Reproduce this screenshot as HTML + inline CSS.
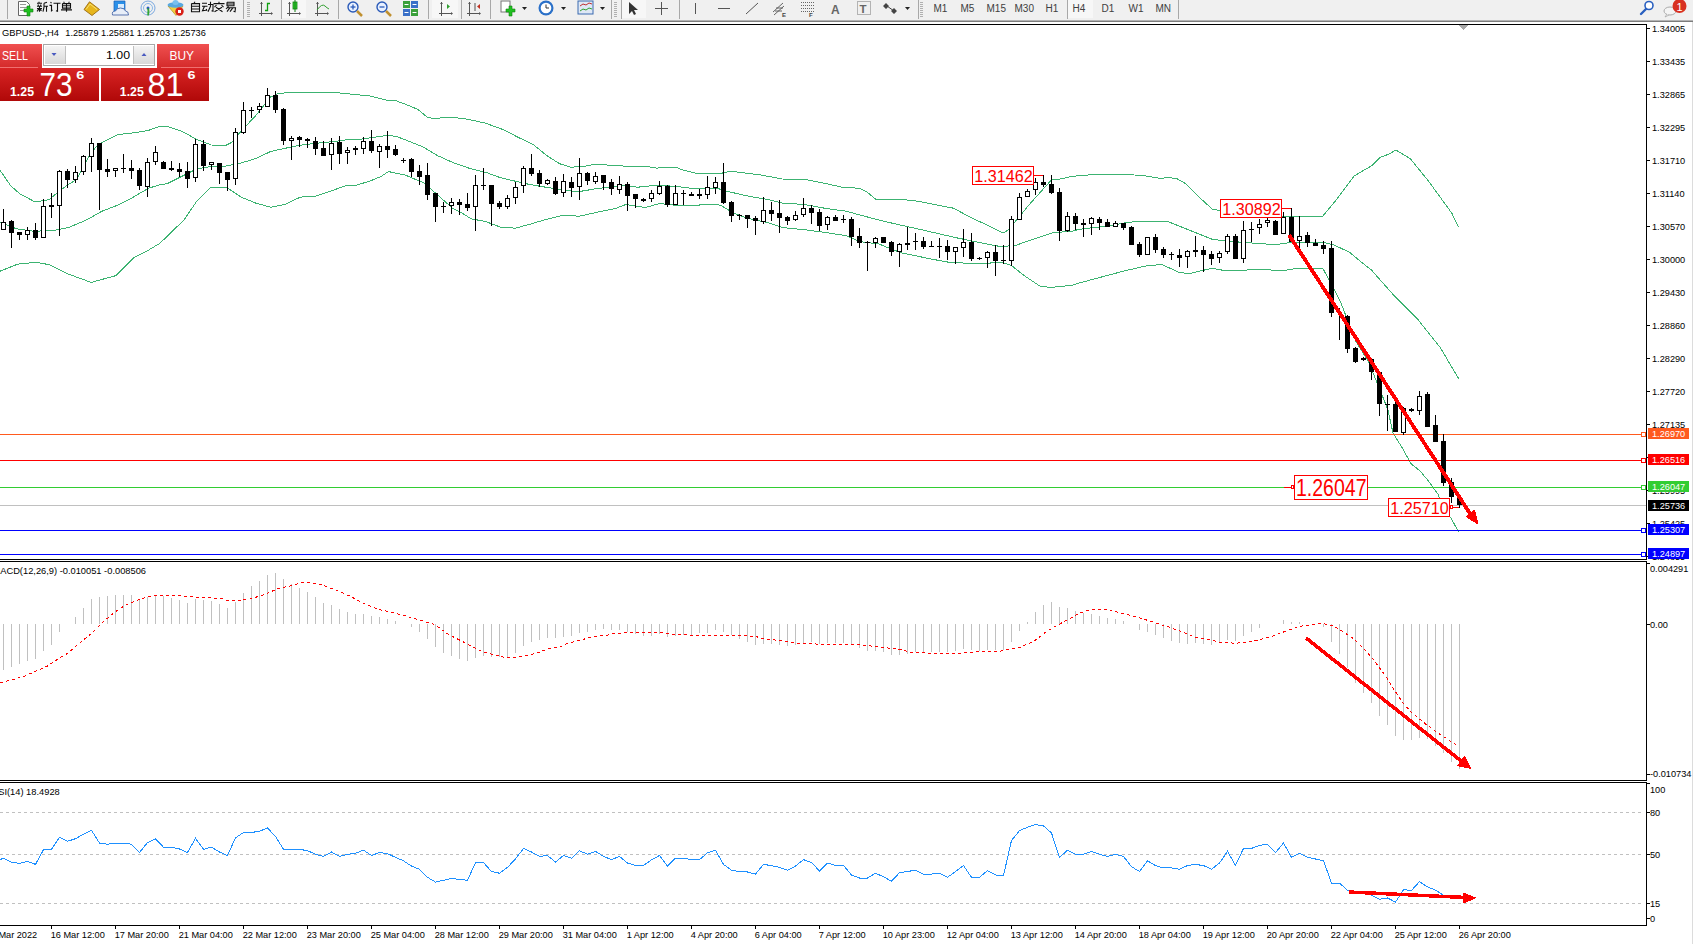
<!DOCTYPE html>
<html><head><meta charset="utf-8"><style>
html,body{margin:0;padding:0;background:#fff;}
body{width:1693px;height:944px;overflow:hidden;position:relative;font-family:"Liberation Sans",sans-serif;}
svg{display:block;}
</style></head><body>
<svg style="position:absolute;left:0;top:0" width="1693" height="944" shape-rendering="crispEdges">
<rect x="0" y="24" width="1647" height="1" fill="#000"/><rect x="1646" y="24" width="1" height="536" fill="#000"/><rect x="0" y="559" width="1647" height="1" fill="#000"/><rect x="0" y="561" width="1647" height="1" fill="#000"/><rect x="1646" y="561" width="1" height="220" fill="#000"/><rect x="0" y="780" width="1647" height="1" fill="#000"/><rect x="0" y="782" width="1647" height="1" fill="#000"/><rect x="1646" y="782" width="1" height="144" fill="#000"/><rect x="0" y="925" width="1647" height="1" fill="#000"/><rect x="1692" y="22" width="1" height="922" fill="#dcdcdc"/><path d="M1458 25 h10 l-5 5 z" fill="#a8a8a8"/><polyline points="0.0,170.3 11.0,186.1 20.0,193.9 35.1,202.0 49.1,199.7 57.3,192.7 66.6,185.7 75.9,179.9 82.9,168.3 89.9,154.3 96.9,146.1 103.9,141.5 117.9,134.5 135.3,132.7 148.7,130.3 160.0,126.2 166.8,126.3 181.7,131.2 196.5,139.3 211.3,145.0 226.1,145.2 232.0,142.3 241.0,131.2 255.8,115.6 270.6,97.0 278.0,93.6 292.9,92.2 312.0,92.6 340.0,93.0 370.0,96.0 386.3,100.0 395.9,100.7 407.8,105.2 418.2,109.6 427.1,117.0 434.5,119.0 443.4,117.5 452.3,117.5 464.0,118.5 485.0,123.0 504.2,130.0 518.3,137.4 533.1,144.5 547.9,156.4 559.8,163.8 570.2,167.1 582.0,166.8 593.9,164.4 604.3,164.8 622.8,166.0 648.0,166.7 656.9,168.2 664.3,167.1 676.2,167.4 682.1,169.7 697.0,173.4 720.7,173.4 731.1,171.1 741.5,172.6 760.0,174.8 782.2,179.0 804.5,179.3 826.7,183.7 843.0,187.4 859.3,188.2 866.8,191.9 875.7,199.3 886.0,200.0 900.9,199.3 920.0,201.5 934.2,204.5 953.5,208.2 971.3,217.8 986.1,224.5 1003.2,233.0 1009.9,229.0 1015.8,220.8 1030.6,203.0 1051.4,180.0 1060.3,179.0 1072.0,176.3 1093.7,174.5 1126.3,174.5 1144.1,175.6 1160.4,178.5 1167.8,177.5 1176.7,178.5 1185.6,183.7 1197.5,195.6 1212.3,209.2 1219.7,210.4 1250.0,216.0 1281.2,216.0 1322.9,216.0 1337.2,198.7 1354.4,175.8 1371.6,165.8 1380.1,157.2 1388.7,154.3 1395.9,150.0 1410.2,158.6 1428.8,181.5 1451.7,213.0 1458.8,227.3" fill="none" stroke="#3cb371" stroke-width="1"/><polyline points="0.0,222.2 16.5,228.8 34.4,231.3 55.1,230.2 68.8,227.4 86.4,220.0 101.6,211.4 117.0,205.4 130.8,198.5 148.7,188.2 160.0,184.7 166.8,183.8 181.7,176.4 196.5,169.0 211.3,166.4 226.1,166.0 241.0,163.0 255.8,158.6 270.6,151.5 285.5,148.2 300.3,145.2 318.8,143.0 333.7,141.5 345.5,140.0 360.3,139.3 375.2,137.1 388.5,135.3 397.4,136.8 407.8,140.8 422.6,146.7 437.5,155.6 452.3,162.3 464.0,166.4 470.8,168.8 485.7,172.3 500.5,177.7 515.3,181.2 530.1,184.6 545.0,187.1 559.8,189.3 571.7,191.1 582.0,191.1 596.9,188.6 616.0,186.3 622.8,185.2 637.7,187.2 656.9,185.2 674.7,186.3 697.0,188.9 719.2,188.9 726.6,191.2 748.9,196.3 768.0,199.6 782.2,203.0 804.5,204.5 826.7,208.6 846.0,211.2 863.8,216.0 878.6,220.0 900.9,225.2 920.0,229.4 934.2,232.7 956.5,237.8 978.7,242.3 1001.0,246.7 1015.8,245.3 1030.6,240.1 1052.9,232.7 1072.0,231.2 1078.8,229.4 1093.7,227.5 1108.5,226.0 1127.8,222.3 1145.6,221.1 1167.8,221.5 1190.0,230.4 1212.3,239.3 1224.0,240.8 1245.7,242.6 1275.3,244.6 1290.1,242.6 1322.8,242.2 1334.6,245.2 1349.5,252.3 1357.3,258.8 1371.6,270.2 1394.4,296.0 1417.3,318.8 1440.2,347.5 1458.8,378.9" fill="none" stroke="#3cb371" stroke-width="1"/><polyline points="0.0,271.2 17.8,264.1 35.6,262.3 48.9,264.6 66.7,273.5 91.2,282.4 115.6,275.7 133.4,257.9 148.7,250.0 160.0,243.2 183.9,220.0 196.5,201.6 211.3,187.0 226.1,187.0 241.0,197.1 255.8,203.1 270.6,207.2 285.5,204.3 300.3,197.1 315.9,196.1 326.2,192.7 347.0,185.3 355.9,185.3 370.7,180.8 381.1,176.4 388.5,171.6 404.8,174.9 415.2,179.3 424.1,183.0 437.5,194.9 452.3,208.0 464.0,214.2 470.8,218.7 485.7,221.6 500.5,227.1 515.3,228.2 530.1,224.2 545.0,219.7 559.8,216.0 570.2,215.3 579.1,216.3 596.9,212.3 616.0,208.3 625.8,204.5 645.1,207.5 659.9,203.5 674.7,205.2 697.0,205.2 711.8,204.1 720.7,205.2 734.0,213.4 748.9,218.6 768.0,222.7 782.2,227.5 804.5,229.7 826.7,232.7 846.0,235.6 856.4,240.1 863.8,242.3 878.6,243.8 890.5,248.7 900.9,252.7 920.0,256.7 934.2,259.6 949.1,262.3 978.7,263.8 1001.0,262.3 1011.3,265.3 1023.2,274.9 1041.0,286.8 1052.9,287.2 1072.0,285.3 1078.8,283.1 1101.1,277.1 1123.3,271.2 1145.6,266.0 1161.9,264.5 1179.7,272.7 1190.0,273.4 1212.3,268.2 1224.0,270.5 1230.8,270.8 1260.5,269.3 1282.7,270.8 1297.6,268.3 1322.8,268.3 1332.7,286.6 1341.2,303.6 1347.5,320.0 1356.0,341.7 1368.7,362.0 1379.3,388.3 1387.8,409.5 1393.0,433.0 1402.0,447.5 1411.0,463.7 1420.0,470.9 1429.0,481.7 1438.0,494.3 1443.5,507.0 1450.7,517.7 1458.8,532.2" fill="none" stroke="#3cb371" stroke-width="1"/><rect x="0" y="505" width="1646" height="1" fill="#c0c0c0"/><rect x="0" y="434" width="1641" height="1" fill="#ff5a1e"/><rect x="1641.5" y="432.5" width="4" height="4" fill="#fff" stroke="#ff5a1e" stroke-width="1"/><rect x="0" y="460" width="1641" height="1" fill="#ff0000"/><rect x="1641.5" y="458.5" width="4" height="4" fill="#fff" stroke="#ff0000" stroke-width="1"/><rect x="0" y="487" width="1641" height="1" fill="#32cd32"/><rect x="1641.5" y="485.5" width="4" height="4" fill="#fff" stroke="#32cd32" stroke-width="1"/><rect x="0" y="530" width="1641" height="1" fill="#0000ff"/><rect x="1641.5" y="528.5" width="4" height="4" fill="#fff" stroke="#0000ff" stroke-width="1"/><rect x="0" y="554" width="1641" height="1" fill="#0000ff"/><rect x="1641.5" y="552.5" width="4" height="4" fill="#fff" stroke="#0000ff" stroke-width="1"/><path d="M3.5 209V230M11.5 220V248M19.5 232V240M27.5 227V240M35.5 223V240M43.5 199V238M51.5 193V218M59.5 170V236M67.5 169V188M75.5 166V183M83.5 155V175M91.5 138V172M99.5 143V210M107.5 159V177M115.5 168V177M123.5 154V173M131.5 160V179M139.5 168V190M147.5 158V197M155.5 146V165M163.5 161V169M171.5 161V171M179.5 163V177M187.5 162V188M195.5 139V182M203.5 140V171M211.5 162V170M219.5 163V184M227.5 172V191M235.5 128V185M243.5 102V134M251.5 107V118M259.5 103V113M267.5 88V107M275.5 91V113M283.5 108V145M291.5 136V160M299.5 136V147M307.5 138V148M315.5 137V155M323.5 141V156M331.5 138V170M339.5 136V164M347.5 147V164M355.5 146V155M363.5 137V154M371.5 130V153M379.5 144V168M387.5 131V158M395.5 145V156M403.5 158V163M411.5 158V177M419.5 165V185M427.5 163V200M435.5 193V222M443.5 202V213M451.5 198V214M459.5 199V215M467.5 193V211M475.5 175V231M483.5 168V190M491.5 185V226M499.5 201V209M507.5 195V209M515.5 182V204M523.5 166V193M531.5 154V176M539.5 170V187M547.5 179V185M555.5 177V195M563.5 174V197M571.5 177V197M579.5 158V200M587.5 172V185M595.5 172V184M603.5 175V190M611.5 179V195M619.5 176V194M627.5 182V211M635.5 194V208M643.5 198V202M651.5 190V202M659.5 181V195M667.5 185V207M675.5 185V205M683.5 190V205M691.5 192V196M699.5 189V199M707.5 176V199M715.5 177V194M723.5 163V204M731.5 201V222M739.5 214V220M747.5 215V228M755.5 216V235M763.5 197V224M771.5 202V221M779.5 200V233M787.5 216V225M795.5 211V221M803.5 198V217M811.5 205V224M819.5 209V231M827.5 216V230M835.5 215V221M843.5 215V223M851.5 217V246M859.5 228V248M867.5 241V271M875.5 237V248M883.5 237V243M891.5 241V256M899.5 243V267M907.5 227V250M915.5 233V250M923.5 237V249M931.5 241V247M939.5 238V258M947.5 240V260M955.5 247V264M963.5 229V257M971.5 233V261M979.5 257V260M987.5 251V268M995.5 245V276M1003.5 245V264M1011.5 216V266M1019.5 193V220M1027.5 189V197M1035.5 178V195M1043.5 175V187M1051.5 175V194M1059.5 188V241M1067.5 212V232M1075.5 213V230M1083.5 219V237M1091.5 217V235M1099.5 217V230M1107.5 219V227M1115.5 221V227M1123.5 223V230M1131.5 226V245M1139.5 242V257M1147.5 237V255M1155.5 234V253M1163.5 247V258M1171.5 252V260M1179.5 249V267M1187.5 250V268M1195.5 236V257M1203.5 246V272M1211.5 251V265M1219.5 251V263M1227.5 234V254M1235.5 234V259M1243.5 221V263M1251.5 222V242M1259.5 219V234M1267.5 217V227M1275.5 220V235M1283.5 212V234M1291.5 208V242M1299.5 216V248M1307.5 232V247M1315.5 239V246M1323.5 241V254M1331.5 241V317M1339.5 308V340M1347.5 315V353M1355.5 347V363M1363.5 357V361M1371.5 358V380M1379.5 371V416M1387.5 395V431M1395.5 402V432M1403.5 407V435M1411.5 408V412M1419.5 391V415M1427.5 392V427M1435.5 415V442M1443.5 434V486M1451.5 478V503M1459.5 497V508" stroke="#000" stroke-width="1" fill="none"/><rect x="1.5" y="222.5" width="4" height="7" fill="#fff" stroke="#000" stroke-width="1"/><rect x="9" y="221" width="5" height="12" fill="#000"/><rect x="17" y="232" width="5" height="3" fill="#000"/><rect x="25.5" y="230.5" width="4" height="4" fill="#fff" stroke="#000" stroke-width="1"/><rect x="33" y="230" width="5" height="8" fill="#000"/><rect x="41.5" y="206.5" width="4" height="31" fill="#fff" stroke="#000" stroke-width="1"/><rect x="49" y="205" width="5" height="2" fill="#000"/><rect x="57.5" y="171.5" width="4" height="34" fill="#fff" stroke="#000" stroke-width="1"/><rect x="65" y="171" width="5" height="9" fill="#000"/><rect x="73.5" y="172.5" width="4" height="7" fill="#fff" stroke="#000" stroke-width="1"/><rect x="81.5" y="156.5" width="4" height="15" fill="#fff" stroke="#000" stroke-width="1"/><rect x="89.5" y="143.5" width="4" height="13" fill="#fff" stroke="#000" stroke-width="1"/><rect x="97" y="143" width="5" height="27" fill="#000"/><rect x="105" y="169" width="5" height="3" fill="#000"/><rect x="113.5" y="168.5" width="4" height="2" fill="#fff" stroke="#000" stroke-width="1"/><rect x="121" y="168" width="5" height="1" fill="#000"/><rect x="129" y="168" width="5" height="3" fill="#000"/><rect x="137" y="170" width="5" height="16" fill="#000"/><rect x="145.5" y="162.5" width="4" height="24" fill="#fff" stroke="#000" stroke-width="1"/><rect x="153.5" y="152.5" width="4" height="9" fill="#fff" stroke="#000" stroke-width="1"/><rect x="161" y="162" width="5" height="7" fill="#000"/><rect x="169" y="168" width="5" height="2" fill="#000"/><rect x="177" y="169" width="5" height="3" fill="#000"/><rect x="185" y="171" width="5" height="8" fill="#000"/><rect x="193.5" y="144.5" width="4" height="33" fill="#fff" stroke="#000" stroke-width="1"/><rect x="201" y="144" width="5" height="22" fill="#000"/><rect x="209.5" y="162.5" width="4" height="2" fill="#fff" stroke="#000" stroke-width="1"/><rect x="217" y="163" width="5" height="10" fill="#000"/><rect x="225" y="172" width="5" height="8" fill="#000"/><rect x="233.5" y="132.5" width="4" height="46" fill="#fff" stroke="#000" stroke-width="1"/><rect x="241.5" y="110.5" width="4" height="22" fill="#fff" stroke="#000" stroke-width="1"/><rect x="249" y="110" width="5" height="1" fill="#000"/><rect x="257.5" y="106.5" width="4" height="3" fill="#fff" stroke="#000" stroke-width="1"/><rect x="265.5" y="95.5" width="4" height="11" fill="#fff" stroke="#000" stroke-width="1"/><rect x="273" y="95" width="5" height="15" fill="#000"/><rect x="281" y="109" width="5" height="32" fill="#000"/><rect x="289.5" y="138.5" width="4" height="2" fill="#fff" stroke="#000" stroke-width="1"/><rect x="297" y="137" width="5" height="3" fill="#000"/><rect x="305" y="139" width="5" height="2" fill="#000"/><rect x="313" y="141" width="5" height="8" fill="#000"/><rect x="321" y="148" width="5" height="8" fill="#000"/><rect x="329.5" y="143.5" width="4" height="11" fill="#fff" stroke="#000" stroke-width="1"/><rect x="337" y="142" width="5" height="12" fill="#000"/><rect x="345.5" y="150.5" width="4" height="2" fill="#fff" stroke="#000" stroke-width="1"/><rect x="353" y="148" width="5" height="2" fill="#000"/><rect x="361.5" y="141.5" width="4" height="7" fill="#fff" stroke="#000" stroke-width="1"/><rect x="369" y="141" width="5" height="10" fill="#000"/><rect x="377.5" y="146.5" width="4" height="5" fill="#fff" stroke="#000" stroke-width="1"/><rect x="385" y="146" width="5" height="4" fill="#000"/><rect x="393" y="149" width="5" height="6" fill="#000"/><rect x="401" y="160" width="5" height="1" fill="#000"/><rect x="409" y="159" width="5" height="13" fill="#000"/><rect x="417" y="171" width="5" height="6" fill="#000"/><rect x="425" y="175" width="5" height="20" fill="#000"/><rect x="433" y="193" width="5" height="14" fill="#000"/><rect x="441" y="206" width="5" height="1" fill="#000"/><rect x="449.5" y="202.5" width="4" height="3" fill="#fff" stroke="#000" stroke-width="1"/><rect x="457" y="202" width="5" height="3" fill="#000"/><rect x="465" y="204" width="5" height="4" fill="#000"/><rect x="473.5" y="185.5" width="4" height="21" fill="#fff" stroke="#000" stroke-width="1"/><rect x="481" y="185" width="5" height="1" fill="#000"/><rect x="489" y="185" width="5" height="19" fill="#000"/><rect x="497" y="203" width="5" height="4" fill="#000"/><rect x="505.5" y="198.5" width="4" height="8" fill="#fff" stroke="#000" stroke-width="1"/><rect x="513.5" y="187.5" width="4" height="10" fill="#fff" stroke="#000" stroke-width="1"/><rect x="521.5" y="168.5" width="4" height="17" fill="#fff" stroke="#000" stroke-width="1"/><rect x="529" y="168" width="5" height="6" fill="#000"/><rect x="537" y="173" width="5" height="11" fill="#000"/><rect x="545.5" y="180.5" width="4" height="3" fill="#fff" stroke="#000" stroke-width="1"/><rect x="553" y="181" width="5" height="13" fill="#000"/><rect x="561.5" y="181.5" width="4" height="11" fill="#fff" stroke="#000" stroke-width="1"/><rect x="569" y="182" width="5" height="6" fill="#000"/><rect x="577.5" y="173.5" width="4" height="13" fill="#fff" stroke="#000" stroke-width="1"/><rect x="585" y="173" width="5" height="8" fill="#000"/><rect x="593.5" y="176.5" width="4" height="5" fill="#fff" stroke="#000" stroke-width="1"/><rect x="601" y="175" width="5" height="8" fill="#000"/><rect x="609" y="182" width="5" height="7" fill="#000"/><rect x="617.5" y="184.5" width="4" height="5" fill="#fff" stroke="#000" stroke-width="1"/><rect x="625" y="184" width="5" height="12" fill="#000"/><rect x="633" y="194" width="5" height="5" fill="#000"/><rect x="641" y="199" width="5" height="2" fill="#000"/><rect x="649.5" y="193.5" width="4" height="5" fill="#fff" stroke="#000" stroke-width="1"/><rect x="657.5" y="186.5" width="4" height="7" fill="#fff" stroke="#000" stroke-width="1"/><rect x="665" y="186" width="5" height="19" fill="#000"/><rect x="673.5" y="193.5" width="4" height="11" fill="#fff" stroke="#000" stroke-width="1"/><rect x="681" y="193" width="5" height="1" fill="#000"/><rect x="689" y="194" width="5" height="2" fill="#000"/><rect x="697" y="194" width="5" height="2" fill="#000"/><rect x="705.5" y="187.5" width="4" height="7" fill="#fff" stroke="#000" stroke-width="1"/><rect x="713.5" y="182.5" width="4" height="5" fill="#fff" stroke="#000" stroke-width="1"/><rect x="721" y="182" width="5" height="21" fill="#000"/><rect x="729" y="202" width="5" height="14" fill="#000"/><rect x="737" y="215" width="5" height="1" fill="#000"/><rect x="745" y="215" width="5" height="4" fill="#000"/><rect x="753" y="218" width="5" height="3" fill="#000"/><rect x="761.5" y="210.5" width="4" height="11" fill="#fff" stroke="#000" stroke-width="1"/><rect x="769" y="210" width="5" height="4" fill="#000"/><rect x="777" y="213" width="5" height="5" fill="#000"/><rect x="785" y="217" width="5" height="4" fill="#000"/><rect x="793.5" y="215.5" width="4" height="4" fill="#fff" stroke="#000" stroke-width="1"/><rect x="801.5" y="208.5" width="4" height="6" fill="#fff" stroke="#000" stroke-width="1"/><rect x="809" y="208" width="5" height="5" fill="#000"/><rect x="817" y="212" width="5" height="14" fill="#000"/><rect x="825.5" y="217.5" width="4" height="7" fill="#fff" stroke="#000" stroke-width="1"/><rect x="833" y="217" width="5" height="4" fill="#000"/><rect x="841" y="219" width="5" height="1" fill="#000"/><rect x="849" y="219" width="5" height="18" fill="#000"/><rect x="857" y="236" width="5" height="7" fill="#000"/><rect x="865" y="242" width="5" height="1" fill="#000"/><rect x="873.5" y="238.5" width="4" height="4" fill="#fff" stroke="#000" stroke-width="1"/><rect x="881" y="237" width="5" height="6" fill="#000"/><rect x="889" y="242" width="5" height="10" fill="#000"/><rect x="897.5" y="244.5" width="4" height="7" fill="#fff" stroke="#000" stroke-width="1"/><rect x="905" y="243" width="5" height="2" fill="#000"/><rect x="913" y="241" width="5" height="1" fill="#000"/><rect x="921" y="241" width="5" height="6" fill="#000"/><rect x="929" y="246" width="5" height="1" fill="#000"/><rect x="937" y="246" width="5" height="1" fill="#000"/><rect x="945" y="246" width="5" height="6" fill="#000"/><rect x="953.5" y="247.5" width="4" height="4" fill="#fff" stroke="#000" stroke-width="1"/><rect x="961.5" y="242.5" width="4" height="5" fill="#fff" stroke="#000" stroke-width="1"/><rect x="969" y="242" width="5" height="17" fill="#000"/><rect x="977" y="258" width="5" height="1" fill="#000"/><rect x="985.5" y="252.5" width="4" height="5" fill="#fff" stroke="#000" stroke-width="1"/><rect x="993" y="252" width="5" height="9" fill="#000"/><rect x="1001" y="260" width="5" height="1" fill="#000"/><rect x="1009.5" y="219.5" width="4" height="41" fill="#fff" stroke="#000" stroke-width="1"/><rect x="1017.5" y="197.5" width="4" height="22" fill="#fff" stroke="#000" stroke-width="1"/><rect x="1025.5" y="191.5" width="4" height="5" fill="#fff" stroke="#000" stroke-width="1"/><rect x="1033.5" y="182.5" width="4" height="7" fill="#fff" stroke="#000" stroke-width="1"/><rect x="1041" y="182" width="5" height="3" fill="#000"/><rect x="1049" y="184" width="5" height="9" fill="#000"/><rect x="1057" y="192" width="5" height="39" fill="#000"/><rect x="1065.5" y="216.5" width="4" height="14" fill="#fff" stroke="#000" stroke-width="1"/><rect x="1073" y="216" width="5" height="8" fill="#000"/><rect x="1081" y="223" width="5" height="2" fill="#000"/><rect x="1089.5" y="218.5" width="4" height="5" fill="#fff" stroke="#000" stroke-width="1"/><rect x="1097" y="219" width="5" height="4" fill="#000"/><rect x="1105" y="222" width="5" height="5" fill="#000"/><rect x="1113.5" y="223.5" width="4" height="3" fill="#fff" stroke="#000" stroke-width="1"/><rect x="1121" y="223" width="5" height="5" fill="#000"/><rect x="1129" y="227" width="5" height="18" fill="#000"/><rect x="1137" y="244" width="5" height="11" fill="#000"/><rect x="1145.5" y="237.5" width="4" height="17" fill="#fff" stroke="#000" stroke-width="1"/><rect x="1153" y="237" width="5" height="13" fill="#000"/><rect x="1161" y="249" width="5" height="6" fill="#000"/><rect x="1169" y="254" width="5" height="1" fill="#000"/><rect x="1177" y="255" width="5" height="3" fill="#000"/><rect x="1185.5" y="251.5" width="4" height="5" fill="#fff" stroke="#000" stroke-width="1"/><rect x="1193" y="250" width="5" height="2" fill="#000"/><rect x="1201" y="250" width="5" height="5" fill="#000"/><rect x="1209" y="254" width="5" height="5" fill="#000"/><rect x="1217.5" y="253.5" width="4" height="4" fill="#fff" stroke="#000" stroke-width="1"/><rect x="1225.5" y="236.5" width="4" height="15" fill="#fff" stroke="#000" stroke-width="1"/><rect x="1233" y="236" width="5" height="23" fill="#000"/><rect x="1241.5" y="230.5" width="4" height="28" fill="#fff" stroke="#000" stroke-width="1"/><rect x="1249" y="229" width="5" height="1" fill="#000"/><rect x="1257.5" y="224.5" width="4" height="3" fill="#fff" stroke="#000" stroke-width="1"/><rect x="1265.5" y="220.5" width="4" height="2" fill="#fff" stroke="#000" stroke-width="1"/><rect x="1273" y="221" width="5" height="14" fill="#000"/><rect x="1281.5" y="217.5" width="4" height="16" fill="#fff" stroke="#000" stroke-width="1"/><rect x="1289" y="217" width="5" height="25" fill="#000"/><rect x="1297.5" y="236.5" width="4" height="4" fill="#fff" stroke="#000" stroke-width="1"/><rect x="1305" y="235" width="5" height="8" fill="#000"/><rect x="1313" y="243" width="5" height="3" fill="#000"/><rect x="1321" y="245" width="5" height="4" fill="#000"/><rect x="1329" y="248" width="5" height="65" fill="#000"/><rect x="1345" y="316" width="5" height="33" fill="#000"/><rect x="1353" y="348" width="5" height="14" fill="#000"/><rect x="1361" y="358" width="5" height="2" fill="#000"/><rect x="1369" y="359" width="5" height="13" fill="#000"/><rect x="1377" y="372" width="5" height="32" fill="#000"/><rect x="1385" y="404" width="5" height="1" fill="#000"/><rect x="1393" y="404" width="5" height="28" fill="#000"/><rect x="1401.5" y="408.5" width="4" height="24" fill="#fff" stroke="#000" stroke-width="1"/><rect x="1409" y="409" width="5" height="2" fill="#000"/><rect x="1417.5" y="396.5" width="4" height="14" fill="#fff" stroke="#000" stroke-width="1"/><rect x="1425" y="394" width="5" height="33" fill="#000"/><rect x="1433" y="425" width="5" height="17" fill="#000"/><rect x="1441" y="441" width="5" height="42" fill="#000"/><rect x="1449" y="482" width="5" height="15" fill="#000"/><rect x="1457" y="498" width="5" height="7" fill="#000"/><rect x="972.5" y="166.5" width="61" height="18" fill="#fff" stroke="#ff0000" stroke-width="1"/><text x="974.3" y="182" font-size="16.7" font-family='"Liberation Sans", sans-serif' fill="#ff0000" textLength="58.5" lengthAdjust="spacingAndGlyphs">1.31462</text><path d="M1033 175.5 H1043" stroke="#ff0000" fill="none"/><rect x="1220.5" y="199.5" width="61" height="18" fill="#fff" stroke="#ff0000" stroke-width="1"/><text x="1222.3" y="215" font-size="16.7" font-family='"Liberation Sans", sans-serif' fill="#ff0000" textLength="58.5" lengthAdjust="spacingAndGlyphs">1.30892</text><path d="M1281 208.5 H1291" stroke="#ff0000" fill="none"/><rect x="1294.5" y="475.5" width="73" height="24" fill="#fff" stroke="#ff0000" stroke-width="1"/><text x="1296" y="496" font-size="23" font-family='"Liberation Sans", sans-serif' fill="#ff0000" textLength="70.5" lengthAdjust="spacingAndGlyphs">1.26047</text><path d="M1284 487.5 H1294" stroke="#ff0000" fill="none"/><rect x="1291.5" y="485.5" width="2" height="3" fill="#fff" stroke="#ff0000"/><rect x="1388.5" y="498.5" width="61" height="18" fill="#fff" stroke="#ff0000" stroke-width="1"/><text x="1390.3" y="514" font-size="16.7" font-family='"Liberation Sans", sans-serif' fill="#ff0000" textLength="58.5" lengthAdjust="spacingAndGlyphs">1.25710</text><path d="M1449 507.5 H1459" stroke="#ff0000" fill="none"/><rect x="1450.5" y="505.5" width="2" height="3" fill="#fff" stroke="#ff0000"/><path d="M1289 235 L1471 515" stroke="#ff0000" stroke-width="3.8" fill="none"/><path d="M1477.5 523.5 L1466.5 516.5 L1474.5 510.5 Z" fill="#ff0000" stroke="#ff0000" stroke-width="1.5" stroke-linejoin="round"/><rect x="1647" y="28" width="3" height="1" fill="#000"/><text x="1652" y="32" font-size="9.2" font-family='"Liberation Sans", sans-serif' fill="#000">1.34005</text><rect x="1647" y="61" width="3" height="1" fill="#000"/><text x="1652" y="65" font-size="9.2" font-family='"Liberation Sans", sans-serif' fill="#000">1.33435</text><rect x="1647" y="94" width="3" height="1" fill="#000"/><text x="1652" y="98" font-size="9.2" font-family='"Liberation Sans", sans-serif' fill="#000">1.32865</text><rect x="1647" y="127" width="3" height="1" fill="#000"/><text x="1652" y="131" font-size="9.2" font-family='"Liberation Sans", sans-serif' fill="#000">1.32295</text><rect x="1647" y="160" width="3" height="1" fill="#000"/><text x="1652" y="164" font-size="9.2" font-family='"Liberation Sans", sans-serif' fill="#000">1.31710</text><rect x="1647" y="193" width="3" height="1" fill="#000"/><text x="1652" y="197" font-size="9.2" font-family='"Liberation Sans", sans-serif' fill="#000">1.31140</text><rect x="1647" y="226" width="3" height="1" fill="#000"/><text x="1652" y="230" font-size="9.2" font-family='"Liberation Sans", sans-serif' fill="#000">1.30570</text><rect x="1647" y="259" width="3" height="1" fill="#000"/><text x="1652" y="263" font-size="9.2" font-family='"Liberation Sans", sans-serif' fill="#000">1.30000</text><rect x="1647" y="292" width="3" height="1" fill="#000"/><text x="1652" y="296" font-size="9.2" font-family='"Liberation Sans", sans-serif' fill="#000">1.29430</text><rect x="1647" y="325" width="3" height="1" fill="#000"/><text x="1652" y="329" font-size="9.2" font-family='"Liberation Sans", sans-serif' fill="#000">1.28860</text><rect x="1647" y="358" width="3" height="1" fill="#000"/><text x="1652" y="362" font-size="9.2" font-family='"Liberation Sans", sans-serif' fill="#000">1.28290</text><rect x="1647" y="391" width="3" height="1" fill="#000"/><text x="1652" y="395" font-size="9.2" font-family='"Liberation Sans", sans-serif' fill="#000">1.27720</text><rect x="1647" y="424" width="3" height="1" fill="#000"/><text x="1652" y="428" font-size="9.2" font-family='"Liberation Sans", sans-serif' fill="#000">1.27135</text><rect x="1647" y="457" width="3" height="1" fill="#000"/><text x="1652" y="461" font-size="9.2" font-family='"Liberation Sans", sans-serif' fill="#000">1.26550</text><rect x="1647" y="490" width="3" height="1" fill="#000"/><text x="1652" y="494" font-size="9.2" font-family='"Liberation Sans", sans-serif' fill="#000">1.25995</text><rect x="1647" y="523" width="3" height="1" fill="#000"/><text x="1652" y="527" font-size="9.2" font-family='"Liberation Sans", sans-serif' fill="#000">1.25425</text><rect x="1647" y="556" width="3" height="1" fill="#000"/><text x="1652" y="560" font-size="9.2" font-family='"Liberation Sans", sans-serif' fill="#000">1.24855</text><rect x="1648" y="428" width="41" height="11" fill="#ff5a1e"/><text x="1652" y="437" font-size="9.2" font-family='"Liberation Sans", sans-serif' fill="#fff">1.26970</text><rect x="1648" y="454" width="41" height="11" fill="#ff0000"/><text x="1652" y="463" font-size="9.2" font-family='"Liberation Sans", sans-serif' fill="#fff">1.26516</text><rect x="1648" y="481" width="41" height="11" fill="#32cd32"/><text x="1652" y="490" font-size="9.2" font-family='"Liberation Sans", sans-serif' fill="#fff">1.26047</text><rect x="1648" y="500" width="41" height="11" fill="#000000"/><text x="1652" y="509" font-size="9.2" font-family='"Liberation Sans", sans-serif' fill="#fff">1.25736</text><rect x="1648" y="524" width="41" height="11" fill="#0000ff"/><text x="1652" y="533" font-size="9.2" font-family='"Liberation Sans", sans-serif' fill="#fff">1.25307</text><rect x="1648" y="548" width="41" height="11" fill="#0000ff"/><text x="1652" y="557" font-size="9.2" font-family='"Liberation Sans", sans-serif' fill="#fff">1.24897</text><text x="2" y="36" font-size="9.3" font-family='"Liberation Sans", sans-serif' fill="#000" textLength="57" lengthAdjust="spacingAndGlyphs">GBPUSD-,H4</text><text x="65.3" y="36" font-size="9.3" font-family='"Liberation Sans", sans-serif' fill="#000" textLength="140.5" lengthAdjust="spacingAndGlyphs">1.25879 1.25881 1.25703 1.25736</text><path d="M3.5 624V670M11.5 624V667M19.5 624V664M27.5 624V661M35.5 624V659M43.5 624V651M51.5 624V645M59.5 624V632M75.5 617V624M83.5 608V624M91.5 599V624M99.5 597V624M107.5 596V624M115.5 595V624M123.5 595V624M131.5 595V624M139.5 600V624M147.5 597V624M155.5 596V624M163.5 596V624M171.5 598V624M179.5 600V624M187.5 603V624M195.5 599V624M203.5 600V624M211.5 601V624M219.5 604V624M227.5 608V624M235.5 602V624M243.5 593V624M251.5 586V624M259.5 581V624M267.5 575V624M275.5 573V624M283.5 579V624M291.5 584V624M299.5 588V624M307.5 592V624M315.5 597V624M323.5 603V624M331.5 605V624M339.5 609V624M347.5 612V624M355.5 614V624M363.5 614V624M371.5 616V624M379.5 617V624M387.5 619V624M395.5 621V624M411.5 624V627M419.5 624V632M427.5 624V639M435.5 624V647M443.5 624V653M451.5 624V656M459.5 624V659M467.5 624V661M475.5 624V658M483.5 624V656M491.5 624V657M499.5 624V657M507.5 624V657M515.5 624V653M523.5 624V646M531.5 624V642M539.5 624V640M547.5 624V638M555.5 624V638M563.5 624V637M571.5 624V636M579.5 624V633M587.5 624V632M595.5 624V630M603.5 624V629M611.5 624V630M619.5 624V630M627.5 624V632M635.5 624V634M643.5 624V636M651.5 624V636M659.5 624V634M667.5 624V637M675.5 624V636M683.5 624V635M691.5 624V635M699.5 624V633M707.5 624V633M715.5 624V630M723.5 624V632M731.5 624V635M739.5 624V639M747.5 624V642M755.5 624V645M763.5 624V644M771.5 624V644M779.5 624V645M787.5 624V646M795.5 624V645M803.5 624V643M811.5 624V642M819.5 624V644M827.5 624V643M835.5 624V643M843.5 624V643M851.5 624V644M859.5 624V648M867.5 624V651M875.5 624V651M883.5 624V652M891.5 624V655M899.5 624V655M907.5 624V654M915.5 624V652M923.5 624V652M931.5 624V652M939.5 624V652M947.5 624V652M955.5 624V651M963.5 624V649M971.5 624V650M979.5 624V651M987.5 624V650M995.5 624V650M1003.5 624V650M1011.5 624V642M1019.5 624V631M1027.5 622V624M1035.5 612V624M1043.5 605V624M1051.5 602V624M1059.5 607V624M1067.5 608V624M1075.5 611V624M1083.5 613V624M1091.5 614V624M1099.5 616V624M1107.5 618V624M1115.5 619V624M1123.5 621V624M1139.5 624V630M1147.5 624V632M1155.5 624V635M1163.5 624V638M1171.5 624V641M1179.5 624V643M1187.5 624V644M1195.5 624V643M1203.5 624V644M1211.5 624V645M1219.5 624V643M1227.5 624V640M1235.5 624V641M1243.5 624V636M1251.5 624V632M1259.5 624V628M1283.5 620V624M1291.5 622V624M1299.5 622V624M1323.5 624V627M1331.5 624V642M1339.5 624V654M1347.5 624V668M1355.5 624V683M1363.5 624V693M1371.5 624V703M1379.5 624V716M1387.5 624V725M1395.5 624V736M1403.5 624V740M1411.5 624V740M1419.5 624V738M1427.5 624V739M1435.5 624V746M1443.5 624V753M1451.5 624V762M1459.5 624V769" stroke="#c0c0c0" stroke-width="1" fill="none"/><polyline points="0.0,682.7 11.3,680.1 24.1,676.3 35.4,671.3 48.2,665.7 59.5,657.9 66.6,654.0 78.0,644.4 92.1,633.0 103.5,621.7 113.4,613.2 124.8,605.4 134.7,601.1 141.8,598.7 148.8,596.5 155.9,595.5 177.2,595.5 191.4,596.5 198.5,597.6 221.2,598.3 226.8,600.4 238.8,600.4 250.2,599.0 264.4,594.5 278.5,588.4 289.9,586.0 299.8,583.1 306.9,582.3 314.0,583.1 323.9,585.6 335.2,589.8 349.4,595.9 363.6,603.3 377.8,609.2 392.0,612.5 406.1,616.0 420.3,620.3 434.5,624.5 448.6,634.5 462.8,641.6 476.0,648.6 484.5,652.4 493.0,654.5 504.4,657.4 518.5,657.1 528.5,655.2 539.8,652.4 546.9,648.9 558.2,647.5 568.1,643.2 582.3,639.7 589.4,637.5 596.5,636.1 606.4,635.4 612.1,634.0 624.9,632.6 660.3,632.6 671.6,634.0 685.8,634.4 691.5,635.4 716.0,635.2 737.3,635.4 755.7,636.4 762.8,638.7 769.9,639.7 782.6,640.4 789.7,642.5 801.1,643.9 857.8,644.3 864.9,645.3 886.1,647.7 900.3,649.6 911.6,652.4 928.6,653.1 956.0,653.4 977.3,651.7 998.5,651.4 1019.8,647.5 1034.0,641.1 1048.1,630.4 1062.3,622.6 1076.5,614.8 1086.4,610.3 1104.9,609.2 1111.9,610.9 1126.1,614.1 1140.3,618.0 1154.5,622.6 1168.6,626.9 1182.8,632.1 1196.0,637.5 1212.2,640.1 1219.4,642.4 1235.6,643.2 1250.0,641.9 1260.8,639.2 1271.6,636.5 1286.0,631.1 1300.4,626.2 1322.0,623.4 1332.8,625.7 1343.6,632.0 1354.4,639.2 1363.4,648.2 1374.3,660.8 1385.1,675.2 1394.0,689.6 1403.1,703.1 1412.1,713.0 1426.5,724.7 1439.1,733.7 1457.1,745.4" fill="none" stroke="#ff0000" stroke-width="1" stroke-dasharray="3 3"/><path d="M1306 638 L1463 762.5" stroke="#ff0000" stroke-width="3.6" fill="none"/><path d="M1470 768 L1458 765.5 L1464.5 757 Z" fill="#ff0000" stroke="#ff0000" stroke-width="1.5" stroke-linejoin="round"/><text x="-7.5" y="574" font-size="9.3" font-family='"Liberation Sans", sans-serif' fill="#000">MACD(12,26,9) -0.010051 -0.008506</text><rect x="1647" y="563" width="3" height="1" fill="#000"/><rect x="1647" y="624" width="3" height="1" fill="#000"/><rect x="1647" y="774" width="3" height="1" fill="#000"/><text x="1650" y="572" font-size="9.2" font-family='"Liberation Sans", sans-serif' fill="#000">0.004291</text><text x="1650" y="628" font-size="9.2" font-family='"Liberation Sans", sans-serif' fill="#000">0.00</text><text x="1650" y="777" font-size="9.2" font-family='"Liberation Sans", sans-serif' fill="#000">-0.010734</text><path d="M0 812.5 H1644" stroke="#c0c0c0" stroke-width="1" stroke-dasharray="3 3"/><path d="M0 854.5 H1644" stroke="#c0c0c0" stroke-width="1" stroke-dasharray="3 3"/><path d="M0 903.5 H1644" stroke="#c0c0c0" stroke-width="1" stroke-dasharray="3 3"/><polyline points="0.0,859.6 3.5,858.2 11.5,862.1 19.5,863.5 27.5,861.4 35.5,864.4 43.5,849.7 51.5,849.3 59.5,837.3 67.5,841.3 75.5,838.7 83.5,834.2 91.5,830.3 99.5,843.1 107.5,844.3 115.5,843.1 123.5,843.1 131.5,844.3 139.5,852.5 147.5,842.6 155.5,839.0 163.5,847.2 171.5,847.2 179.5,849.0 187.5,852.5 195.5,838.3 203.5,849.3 211.5,847.2 219.5,852.0 227.5,855.5 235.5,837.8 243.5,832.5 251.5,832.5 259.5,831.2 267.5,828.0 275.5,836.5 283.5,849.3 291.5,849.3 299.5,849.3 307.5,850.7 315.5,854.3 323.5,856.4 331.5,852.0 339.5,856.4 347.5,854.3 355.5,853.2 363.5,850.2 371.5,855.5 379.5,852.5 387.5,853.7 395.5,857.3 403.5,860.8 411.5,866.1 419.5,869.2 427.5,877.3 435.5,882.1 443.5,880.3 451.5,878.5 459.5,879.4 467.5,880.3 475.5,862.6 483.5,862.6 491.5,871.5 499.5,873.2 507.5,867.4 515.5,859.0 523.5,848.4 531.5,852.0 539.5,856.4 547.5,855.5 555.5,862.1 563.5,855.5 571.5,858.2 579.5,850.7 587.5,854.3 595.5,851.4 603.5,856.4 611.5,859.6 619.5,856.4 627.5,863.1 635.5,865.3 643.5,865.3 651.5,859.9 659.5,855.5 667.5,866.1 675.5,858.2 683.5,858.2 691.5,859.6 699.5,859.6 707.5,852.8 715.5,850.2 723.5,864.4 731.5,870.2 739.5,871.5 747.5,872.0 755.5,874.1 763.5,864.4 771.5,865.6 779.5,867.4 787.5,870.2 795.5,866.1 803.5,859.6 811.5,862.6 819.5,870.9 827.5,863.1 835.5,865.3 843.5,865.3 851.5,875.0 859.5,878.0 867.5,878.0 875.5,873.2 883.5,876.8 891.5,881.2 899.5,872.7 907.5,871.5 915.5,870.2 923.5,874.1 931.5,874.1 939.5,873.2 947.5,877.3 955.5,871.5 963.5,865.6 971.5,877.3 979.5,877.3 987.5,870.6 995.5,875.0 1003.5,875.5 1011.5,840.4 1019.5,830.7 1027.5,827.2 1035.5,824.5 1043.5,825.9 1051.5,833.0 1059.5,857.3 1067.5,850.2 1075.5,854.3 1083.5,854.3 1091.5,851.4 1099.5,854.3 1107.5,856.4 1115.5,854.3 1123.5,856.4 1131.5,866.7 1139.5,871.5 1147.5,860.8 1155.5,865.6 1163.5,867.9 1171.5,867.9 1179.5,869.2 1187.5,865.5 1195.5,864.4 1203.5,865.6 1211.5,869.2 1219.5,863.1 1227.5,851.4 1235.5,865.3 1243.5,848.4 1251.5,848.4 1259.5,845.4 1267.5,844.3 1275.5,852.5 1283.5,843.1 1291.5,857.3 1299.5,853.2 1307.5,857.3 1315.5,859.0 1323.5,860.8 1331.5,883.0 1339.5,883.0 1347.5,890.4 1355.5,892.2 1363.5,891.5 1371.5,895.4 1379.5,899.3 1387.5,898.0 1395.5,902.1 1403.5,889.7 1411.5,890.4 1419.5,881.6 1427.5,886.9 1435.5,890.1 1443.5,895.4 1451.5,897.1 1459.5,898.5" fill="none" stroke="#1e90ff" stroke-width="1"/><path d="M1349 892 L1466 897.5" stroke="#ff0000" stroke-width="3.5" fill="none"/><path d="M1475 898 L1464 893.5 L1464 902.5 Z" fill="#ff0000" stroke="#ff0000" stroke-width="1.5" stroke-linejoin="round"/><text x="-8.5" y="794.8" font-size="9.3" font-family='"Liberation Sans", sans-serif' fill="#000">RSI(14) 18.4928</text><rect x="1647" y="783" width="3" height="1" fill="#000"/><rect x="1647" y="812" width="3" height="1" fill="#000"/><rect x="1647" y="854" width="3" height="1" fill="#000"/><rect x="1647" y="903" width="3" height="1" fill="#000"/><rect x="1647" y="918" width="3" height="1" fill="#000"/><text x="1650" y="793" font-size="9.2" font-family='"Liberation Sans", sans-serif' fill="#000">100</text><text x="1650" y="816" font-size="9.2" font-family='"Liberation Sans", sans-serif' fill="#000">80</text><text x="1650" y="858" font-size="9.2" font-family='"Liberation Sans", sans-serif' fill="#000">50</text><text x="1650" y="907" font-size="9.2" font-family='"Liberation Sans", sans-serif' fill="#000">15</text><text x="1650" y="922" font-size="9.2" font-family='"Liberation Sans", sans-serif' fill="#000">0</text><text x="-14.4" y="938" font-size="9.2" font-family='"Liberation Sans", sans-serif' fill="#000">15 Mar 2022</text><rect x="51" y="926" width="1" height="3" fill="#000"/><text x="50.7" y="938" font-size="9.2" font-family='"Liberation Sans", sans-serif' fill="#000">16 Mar 12:00</text><rect x="115" y="926" width="1" height="3" fill="#000"/><text x="114.7" y="938" font-size="9.2" font-family='"Liberation Sans", sans-serif' fill="#000">17 Mar 20:00</text><rect x="179" y="926" width="1" height="3" fill="#000"/><text x="178.7" y="938" font-size="9.2" font-family='"Liberation Sans", sans-serif' fill="#000">21 Mar 04:00</text><rect x="243" y="926" width="1" height="3" fill="#000"/><text x="242.7" y="938" font-size="9.2" font-family='"Liberation Sans", sans-serif' fill="#000">22 Mar 12:00</text><rect x="307" y="926" width="1" height="3" fill="#000"/><text x="306.7" y="938" font-size="9.2" font-family='"Liberation Sans", sans-serif' fill="#000">23 Mar 20:00</text><rect x="371" y="926" width="1" height="3" fill="#000"/><text x="370.7" y="938" font-size="9.2" font-family='"Liberation Sans", sans-serif' fill="#000">25 Mar 04:00</text><rect x="435" y="926" width="1" height="3" fill="#000"/><text x="434.7" y="938" font-size="9.2" font-family='"Liberation Sans", sans-serif' fill="#000">28 Mar 12:00</text><rect x="499" y="926" width="1" height="3" fill="#000"/><text x="498.7" y="938" font-size="9.2" font-family='"Liberation Sans", sans-serif' fill="#000">29 Mar 20:00</text><rect x="563" y="926" width="1" height="3" fill="#000"/><text x="562.7" y="938" font-size="9.2" font-family='"Liberation Sans", sans-serif' fill="#000">31 Mar 04:00</text><rect x="627" y="926" width="1" height="3" fill="#000"/><text x="626.7" y="938" font-size="9.2" font-family='"Liberation Sans", sans-serif' fill="#000">1 Apr 12:00</text><rect x="691" y="926" width="1" height="3" fill="#000"/><text x="690.7" y="938" font-size="9.2" font-family='"Liberation Sans", sans-serif' fill="#000">4 Apr 20:00</text><rect x="755" y="926" width="1" height="3" fill="#000"/><text x="754.7" y="938" font-size="9.2" font-family='"Liberation Sans", sans-serif' fill="#000">6 Apr 04:00</text><rect x="819" y="926" width="1" height="3" fill="#000"/><text x="818.7" y="938" font-size="9.2" font-family='"Liberation Sans", sans-serif' fill="#000">7 Apr 12:00</text><rect x="883" y="926" width="1" height="3" fill="#000"/><text x="882.7" y="938" font-size="9.2" font-family='"Liberation Sans", sans-serif' fill="#000">10 Apr 23:00</text><rect x="947" y="926" width="1" height="3" fill="#000"/><text x="946.7" y="938" font-size="9.2" font-family='"Liberation Sans", sans-serif' fill="#000">12 Apr 04:00</text><rect x="1011" y="926" width="1" height="3" fill="#000"/><text x="1010.7" y="938" font-size="9.2" font-family='"Liberation Sans", sans-serif' fill="#000">13 Apr 12:00</text><rect x="1075" y="926" width="1" height="3" fill="#000"/><text x="1074.7" y="938" font-size="9.2" font-family='"Liberation Sans", sans-serif' fill="#000">14 Apr 20:00</text><rect x="1139" y="926" width="1" height="3" fill="#000"/><text x="1138.7" y="938" font-size="9.2" font-family='"Liberation Sans", sans-serif' fill="#000">18 Apr 04:00</text><rect x="1203" y="926" width="1" height="3" fill="#000"/><text x="1202.7" y="938" font-size="9.2" font-family='"Liberation Sans", sans-serif' fill="#000">19 Apr 12:00</text><rect x="1267" y="926" width="1" height="3" fill="#000"/><text x="1266.7" y="938" font-size="9.2" font-family='"Liberation Sans", sans-serif' fill="#000">20 Apr 20:00</text><rect x="1331" y="926" width="1" height="3" fill="#000"/><text x="1330.7" y="938" font-size="9.2" font-family='"Liberation Sans", sans-serif' fill="#000">22 Apr 04:00</text><rect x="1395" y="926" width="1" height="3" fill="#000"/><text x="1394.7" y="938" font-size="9.2" font-family='"Liberation Sans", sans-serif' fill="#000">25 Apr 12:00</text><rect x="1459" y="926" width="1" height="3" fill="#000"/><text x="1458.7" y="938" font-size="9.2" font-family='"Liberation Sans", sans-serif' fill="#000">26 Apr 20:00</text>
</svg>
<svg style="position:absolute;left:0;top:0" width="1693" height="22">
<rect x="0" y="0" width="1693" height="20" fill="#f0f0f0"/><rect x="0" y="20" width="1693" height="1" fill="#b4b4b4"/><rect x="0" y="21" width="1693" height="1" fill="#7c7c7c"/><rect x="7" y="0" width="1" height="19" fill="#a8a8a8"/><rect x="243" y="0" width="1" height="19" fill="#a8a8a8"/><rect x="281" y="0" width="1" height="19" fill="#a8a8a8"/><rect x="338" y="0" width="1" height="19" fill="#a8a8a8"/><rect x="428" y="0" width="1" height="19" fill="#a8a8a8"/><rect x="461" y="0" width="1" height="19" fill="#a8a8a8"/><rect x="490" y="0" width="1" height="19" fill="#a8a8a8"/><rect x="611" y="0" width="1" height="19" fill="#a8a8a8"/><rect x="621" y="0" width="1" height="19" fill="#a8a8a8"/><rect x="679" y="0" width="1" height="19" fill="#a8a8a8"/><rect x="918" y="0" width="1" height="19" fill="#a8a8a8"/><rect x="1067" y="0" width="1" height="19" fill="#a8a8a8"/><rect x="1178" y="0" width="1" height="19" fill="#a8a8a8"/><rect x="247" y="2" width="3" height="1" fill="#b0b0b0"/><rect x="247" y="4" width="3" height="1" fill="#b0b0b0"/><rect x="247" y="6" width="3" height="1" fill="#b0b0b0"/><rect x="247" y="8" width="3" height="1" fill="#b0b0b0"/><rect x="247" y="10" width="3" height="1" fill="#b0b0b0"/><rect x="247" y="12" width="3" height="1" fill="#b0b0b0"/><rect x="247" y="14" width="3" height="1" fill="#b0b0b0"/><rect x="247" y="16" width="3" height="1" fill="#b0b0b0"/><rect x="614" y="2" width="3" height="1" fill="#b0b0b0"/><rect x="614" y="4" width="3" height="1" fill="#b0b0b0"/><rect x="614" y="6" width="3" height="1" fill="#b0b0b0"/><rect x="614" y="8" width="3" height="1" fill="#b0b0b0"/><rect x="614" y="10" width="3" height="1" fill="#b0b0b0"/><rect x="614" y="12" width="3" height="1" fill="#b0b0b0"/><rect x="614" y="14" width="3" height="1" fill="#b0b0b0"/><rect x="614" y="16" width="3" height="1" fill="#b0b0b0"/><rect x="920" y="2" width="3" height="1" fill="#b0b0b0"/><rect x="920" y="4" width="3" height="1" fill="#b0b0b0"/><rect x="920" y="6" width="3" height="1" fill="#b0b0b0"/><rect x="920" y="8" width="3" height="1" fill="#b0b0b0"/><rect x="920" y="10" width="3" height="1" fill="#b0b0b0"/><rect x="920" y="12" width="3" height="1" fill="#b0b0b0"/><rect x="920" y="14" width="3" height="1" fill="#b0b0b0"/><rect x="920" y="16" width="3" height="1" fill="#b0b0b0"/><rect x="282" y="0" width="24" height="18" fill="#f7f7f7"/><rect x="432" y="0" width="26" height="18" fill="#f7f7f7"/><rect x="622" y="0" width="24" height="18" fill="#f7f7f7"/><rect x="1068" y="0" width="25" height="18" fill="#f7f7f7"/><path d="M18.5 1.5 h8 l3 3 v11 h-11 z" fill="#fff" stroke="#666" stroke-width="1"/><rect x="20" y="4" width="6" height="1" fill="#999"/><rect x="20" y="7" width="7" height="1" fill="#999"/><rect x="20" y="10" width="5" height="1" fill="#999"/><path d="M24 9h3v-3h3v3h3v3h-3v4h-3v-4h-3z" fill="#20c020" stroke="#108010" stroke-width="0.6"/><path d="M39.0 1.8 L39.0 2.7 M37.0 3.2 L42.0 3.2 M38.0 4.5 L38.5 5.8 M41.0 4.5 L40.5 5.8 M37.0 6.3 L42.0 6.3 M37.0 8.6 L42.0 8.6 M39.5 6.3 L39.5 11.7 M39.0 9.0 L37.0 11.3 M40.0 9.5 L41.5 10.8 M47.0 2.2 L44.0 3.2 M44.0 3.2 L44.0 7.2 L43.0 11.7 M44.0 6.3 L48.0 6.3 M46.5 6.3 L46.5 11.7 " stroke="#111" stroke-width="1.1" fill="none"/><path d="M50.5 2.2 L51.5 3.2 M49.5 5.4 L51.5 5.4 L51.5 10.8 L52.5 9.9 M53.5 3.2 L60.5 3.2 M57.5 3.2 L57.5 11.3 L56.0 10.8 " stroke="#111" stroke-width="1.1" fill="none"/><path d="M63.5 1.8 L64.5 2.7 M69.5 1.8 L68.5 2.7 M62.5 3.6 L70.5 3.6 L70.5 8.1 L62.5 8.1 L62.5 3.6 M62.5 5.8 L70.5 5.8 M66.5 3.6 L66.5 11.7 M61.0 9.9 L72.0 9.9 " stroke="#111" stroke-width="1.1" fill="none"/><path d="M84 9.5 L89.5 1.8 L99.5 9.5 L92 15.5 Z" fill="#e6b51c" stroke="#9a6a10" stroke-width="0.9"/><path d="M86 9.5 L90 4 L97 9.5" fill="none" stroke="#f8e070" stroke-width="1"/><path d="M114 1 h11 v11 h-11 z" fill="#2a90e8" stroke="#1a60b8" stroke-width="0.7"/><rect x="118" y="4" width="6" height="4" fill="#d8ecff"/><path d="M112.5 15 q-1 -4 3 -4 q1 -3 5 -3 q4 0 5 3 q3 0 3 4 z" fill="#e8eef8" stroke="#4a68a8" stroke-width="0.9"/><circle cx="148" cy="8" r="7" fill="none" stroke="#7aa8e0" stroke-width="1"/><circle cx="148" cy="8" r="4.5" fill="none" stroke="#8ab8e8" stroke-width="1"/><path d="M148 8 A7 7 0 0 1 148 15" fill="none" stroke="#60b060" stroke-width="1.2"/><circle cx="148" cy="8" r="1.5" fill="#2a5ac8"/><rect x="147.5" y="8" width="1.2" height="7.5" fill="#20a020"/><path d="M168 6 L176 15.5 L183 6 Z" fill="#f0d040" stroke="#b09020" stroke-width="0.7"/><ellipse cx="175.5" cy="5" rx="8" ry="2.8" fill="#58a8e0"/><ellipse cx="175.5" cy="2.5" rx="3" ry="2.5" fill="#78c0f0"/><circle cx="179.5" cy="11.5" r="4.2" fill="#d82018"/><rect x="178" y="10" width="3" height="3" fill="#fff"/><path d="M195.0 1.8 L194.0 3.2 M191.5 3.6 L199.5 3.6 L199.5 11.7 L191.5 11.7 L191.5 3.6 M191.5 6.3 L199.5 6.3 M191.5 9.0 L199.5 9.0 " stroke="#111" stroke-width="1.1" fill="none"/><path d="M202.0 3.2 L207.0 3.2 M202.0 6.3 L207.5 6.3 M204.5 6.3 L202.5 10.8 L207.0 9.9 M206.0 9.0 L207.0 10.8 M208.0 4.5 L213.0 4.5 L213.0 11.3 L211.5 10.8 M210.5 1.8 L210.5 6.3 L208.0 11.7 " stroke="#111" stroke-width="1.1" fill="none"/><path d="M219.0 1.8 L219.0 3.2 M213.5 3.6 L224.5 3.6 M216.5 5.0 L214.5 7.2 M221.5 5.0 L223.5 7.2 M216.0 7.2 L222.5 11.7 M222.0 7.2 L214.5 11.7 " stroke="#111" stroke-width="1.1" fill="none"/><path d="M227.0 2.2 L234.0 2.2 L234.0 5.8 L227.0 5.8 L227.0 2.2 M227.0 4.0 L234.0 4.0 M228.5 6.3 L226.0 9.0 M227.5 7.7 L235.5 7.7 L235.0 11.7 L233.5 11.3 M230.0 7.7 L227.0 11.7 M233.0 7.7 L230.0 11.7 " stroke="#111" stroke-width="1.1" fill="none"/><path d="M261.5 2 v14 M259 13.5 h13" stroke="#555" stroke-width="1" fill="none"/><path d="M260 4 l1.5 -2 l1.5 2 z M271 12 l2 1.5 l-2 1.5 z" fill="#555"/><path d="M265 10.5 h2.5 v-7 h2.5" stroke="#10a010" stroke-width="1.3" fill="none"/><path d="M289.5 2 v14 M287 13.5 h13" stroke="#555" stroke-width="1" fill="none"/><path d="M288 4 l1.5 -2 l1.5 2 z M299 12 l2 1.5 l-2 1.5 z" fill="#555"/><rect x="293" y="2" width="4" height="7" fill="#30d030" stroke="#108010" stroke-width="0.8"/><rect x="294.5" y="0" width="1" height="12" fill="#108010"/><path d="M317.5 2 v14 M315 13.5 h13" stroke="#555" stroke-width="1" fill="none"/><path d="M316 4 l1.5 -2 l1.5 2 z M327 12 l2 1.5 l-2 1.5 z" fill="#555"/><path d="M317 10 q5 -7 8 -4 q2 2 4 3" stroke="#30a030" stroke-width="1" fill="none"/><circle cx="353" cy="7" r="5" fill="#e8f0ff" stroke="#2a5ab8" stroke-width="1.4"/><path d="M357 11 l5 5" stroke="#c09030" stroke-width="2.5"/><path d="M350.5 7 h5" stroke="#2a5ab8" stroke-width="1.3"/><path d="M353 4.5 v5" stroke="#2a5ab8" stroke-width="1.3"/><circle cx="382" cy="7" r="5" fill="#e8f0ff" stroke="#2a5ab8" stroke-width="1.4"/><path d="M386 11 l5 5" stroke="#c09030" stroke-width="2.5"/><path d="M379.5 7 h5" stroke="#2a5ab8" stroke-width="1.3"/><rect x="403" y="1" width="7" height="7" fill="#3aa03a"/><rect x="411" y="1" width="7" height="7" fill="#3a70c8"/><rect x="403" y="9" width="7" height="7" fill="#3a70c8"/><rect x="411" y="9" width="7" height="7" fill="#3aa03a"/><path d="M404.5 4.5h4M412.5 4.5h4M404.5 12.5h4M412.5 12.5h4" stroke="#fff" stroke-width="1"/><path d="M441.5 2 v14 M439 13.5 h13" stroke="#555" stroke-width="1" fill="none"/><path d="M440 4 l1.5 -2 l1.5 2 z M451 12 l2 1.5 l-2 1.5 z" fill="#555"/><path d="M447 4 l3 2.5 l-3 2.5 z" fill="#30a030"/><path d="M469.5 2 v14 M467 13.5 h13" stroke="#555" stroke-width="1" fill="none"/><path d="M468 4 l1.5 -2 l1.5 2 z M479 12 l2 1.5 l-2 1.5 z" fill="#555"/><path d="M475 3 v8" stroke="#555"/><path d="M480 4 l-3 2.5 l3 2.5 z" fill="#c03020"/><rect x="501" y="1" width="9" height="11" fill="#fff" stroke="#777" stroke-width="1"/><path d="M506 9h3v-3h3v3h3v3h-3v4h-3v-4h-3z" fill="#20c020" stroke="#108010" stroke-width="0.6"/><path d="M522 7 h5 l-2.5 3 z" fill="#222"/><circle cx="546" cy="8" r="7.5" fill="#2a70c8"/><circle cx="546" cy="8" r="5.3" fill="#fff"/><path d="M546 4.5 v3.5 h3" stroke="#333" stroke-width="1" fill="none"/><path d="M561 7 h5 l-2.5 3 z" fill="#222"/><rect x="578" y="1" width="15" height="13" fill="#dfe8f5" stroke="#3a6ab0" stroke-width="1"/><path d="M580 6 l3 -2 l3 1 l3 -2 l3 1" stroke="#c03030" fill="none" stroke-width="1"/><path d="M580 11 l3 -2 l3 1 l3 -2 l3 1" stroke="#30a030" fill="none" stroke-width="1"/><path d="M600 7 h5 l-2.5 3 z" fill="#222"/><path d="M629 2 v12 l3 -3 l2 4 l2 -1 l-2 -4 h4 z" fill="#333"/><path d="M661.5 2 v13 M655 8.5 h13" stroke="#555" stroke-width="1"/><path d="M695.5 3 v11" stroke="#555"/><path d="M718 8.5 h12" stroke="#555"/><path d="M746 14 l12 -11" stroke="#555"/><path d="M773 12 l10 -9 M774 15 l10 -9 M776 8 h7 M775 11 h7" stroke="#555" stroke-width="0.9"/><text x="782" y="17" font-size="6" font-family='"Liberation Sans",sans-serif' font-weight="bold" fill="#444">E</text><path d="M801 2.5 h13 M801 5.5 h13 M801 8.5 h13 M801 11.5 h13" stroke="#666" stroke-width="1" stroke-dasharray="1 1"/><text x="809" y="17" font-size="6" font-family='"Liberation Sans",sans-serif' font-weight="bold" fill="#444">F</text><text x="831" y="14" font-size="12" font-family='"Liberation Sans", sans-serif' font-weight="bold" fill="#666">A</text><rect x="857.5" y="1.5" width="13" height="13" fill="none" stroke="#777" stroke-dasharray="1 1"/><text x="859.5" y="13" font-size="11.5" font-family='"Liberation Sans", sans-serif' font-weight="bold" fill="#666">T</text><path d="M886 3 l3 3 l-3 3 l-3 -3 z M894 8 l3 3 l-3 3 l-3 -3 z" fill="#444"/><path d="M887 6 l7 5" stroke="#444"/><path d="M905 7 h5 l-2.5 3 z" fill="#222"/><text x="933.5" y="12" font-size="10" font-family='"Liberation Sans", sans-serif' fill="#404040">M1</text><text x="960.5" y="12" font-size="10" font-family='"Liberation Sans", sans-serif' fill="#404040">M5</text><text x="986.5" y="12" font-size="10" font-family='"Liberation Sans", sans-serif' fill="#404040">M15</text><text x="1014.5" y="12" font-size="10" font-family='"Liberation Sans", sans-serif' fill="#404040">M30</text><text x="1045.5" y="12" font-size="10" font-family='"Liberation Sans", sans-serif' fill="#404040">H1</text><text x="1072.5" y="12" font-size="10" font-family='"Liberation Sans", sans-serif' fill="#404040">H4</text><text x="1101.5" y="12" font-size="10" font-family='"Liberation Sans", sans-serif' fill="#404040">D1</text><text x="1128.5" y="12" font-size="10" font-family='"Liberation Sans", sans-serif' fill="#404040">W1</text><text x="1155.5" y="12" font-size="10" font-family='"Liberation Sans", sans-serif' fill="#404040">MN</text><circle cx="1649" cy="5.5" r="4" fill="#fff" stroke="#2a60c0" stroke-width="1.6"/><path d="M1646 9 l-5 5" stroke="#2a60c0" stroke-width="2.4" stroke-linecap="round"/><ellipse cx="1670" cy="11" rx="6" ry="4" fill="#f4f4f4" stroke="#aaa" stroke-width="1"/><path d="M1667 14 l-2 3 l4 -2" fill="#f4f4f4" stroke="#aaa" stroke-width="0.8"/><circle cx="1679.5" cy="6" r="7" fill="#d83020"/><text x="1679.5" y="10.5" font-size="11" font-family='"Liberation Sans", sans-serif' fill="#fff" text-anchor="middle">1</text>
</svg>

<div style="position:absolute;left:0;top:44px;width:42px;height:24px;background:linear-gradient(#f05050,#d42a2a);"></div>
<div style="position:absolute;left:0;top:67px;width:38px;height:1px;background:#f07070;"></div>
<div style="position:absolute;left:157px;top:44px;width:52px;height:24px;background:linear-gradient(#f05050,#d42a2a);"></div>
<div style="position:absolute;left:161px;top:67px;width:48px;height:1px;background:#f07070;"></div>
<div style="position:absolute;left:0;top:68px;width:99px;height:33px;background:linear-gradient(#d82424,#b00808);"></div>
<div style="position:absolute;left:101px;top:68px;width:108px;height:33px;background:linear-gradient(#d82424,#b00808);"></div>
<div style="position:absolute;left:43px;top:44px;width:112px;height:22px;background:#fff;box-sizing:border-box;border:1px solid #a8a8a8;"></div>
<div style="position:absolute;left:45px;top:46px;width:20px;height:18px;background:linear-gradient(#f4f4f4,#d8d8d8);"></div>
<div style="position:absolute;left:134px;top:46px;width:20px;height:18px;background:linear-gradient(#f4f4f4,#d8d8d8);"></div>
<div style="position:absolute;left:65px;top:46px;width:1px;height:18px;background:#c0c0c0;"></div>
<div style="position:absolute;left:133px;top:46px;width:1px;height:18px;background:#c0c0c0;"></div>
<svg style="position:absolute;left:0;top:0" width="220" height="110" font-family='"Liberation Sans",sans-serif'>
<path d="M51.5 53 h5 l-2.5 3 z" fill="#4a5ac0"/><path d="M141.5 56 h5 l-2.5 -3 z" fill="#4a5ac0"/>
<text x="2" y="59.7" font-size="12.2" fill="#fff" textLength="26" lengthAdjust="spacingAndGlyphs">SELL</text>
<text x="169.5" y="59.7" font-size="12.2" fill="#fff" textLength="24.5" lengthAdjust="spacingAndGlyphs">BUY</text>
<text x="106" y="59" font-size="11.8" fill="#000" textLength="24" lengthAdjust="spacingAndGlyphs">1.00</text>
<text x="10" y="95.9" font-size="12.2" font-weight="bold" fill="#fff" textLength="24" lengthAdjust="spacingAndGlyphs">1.25</text>
<text x="39.5" y="95.9" font-size="33" fill="#fff" textLength="33" lengthAdjust="spacingAndGlyphs">73</text>
<text x="76.3" y="79.4" font-size="10.6" font-weight="bold" fill="#fff" textLength="8" lengthAdjust="spacingAndGlyphs">6</text>
<text x="119.8" y="95.9" font-size="12.2" font-weight="bold" fill="#fff" textLength="24" lengthAdjust="spacingAndGlyphs">1.25</text>
<text x="147.5" y="95.9" font-size="33" fill="#fff" textLength="36" lengthAdjust="spacingAndGlyphs">81</text>
<text x="187.5" y="79.4" font-size="10.6" font-weight="bold" fill="#fff" textLength="8" lengthAdjust="spacingAndGlyphs">6</text>
</svg>

</body></html>
